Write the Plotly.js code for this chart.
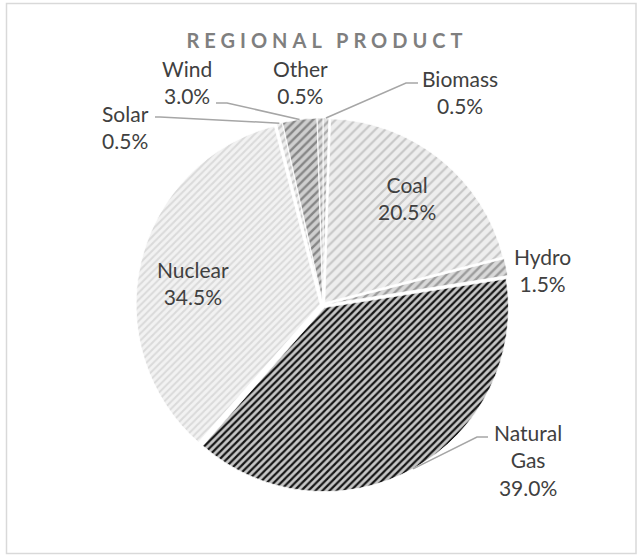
<!DOCTYPE html>
<html>
<head>
<meta charset="utf-8">
<script src="https://cdn.plot.ly/plotly-3.0.1.min.js"></script>
<style>html,body{margin:0;padding:0;background:#fff;}</style>
</head>
<body>
<div id="chart" style="width:638px;height:556px;"></div>
<script>
// ---- data ----
const labels = ['Biomass', 'Coal', 'Hydro', 'Natural Gas', 'Nuclear', 'Solar', 'Wind', 'Other'];
const values = [0.5, 20.5, 1.5, 39.0, 34.5, 0.5, 3.0, 0.5];
const chartTitle = 'REGIONAL PRODUCT';

// ---- styles ----
const W = 638, H = 556;
const pull = 0.016;
const pieBox = {cx: 323, cy: 305, size: 374};
const patBg = ['#e4e4e4', '#eeeeee', '#d9d9d9', '#c6c6c6', '#f2f2f2', '#efefef', '#cfcfcf', '#dcdcdc'];
const patFg = ['#ababab', '#c6c6c6', '#9c9c9c', '#161616', '#dadada', '#c8c8c8', '#868686', '#a3a3a3'];
const patSize = [6, 7, 6, 5, 5, 6, 6, 6];
const patSolid = [0.4, 0.3, 0.4, 0.45, 0.4, 0.4, 0.4, 0.4];
// label block centres (px) and leader line elbows/ends (px) — layout only
const labelPos = {
  'Biomass': [460, 92], 'Coal': [407, 198], 'Hydro': [542, 270], 'Natural Gas': [528, 460],
  'Nuclear': [193, 283], 'Solar': [125, 127], 'Wind': [187, 82], 'Other': [300, 82]
};
const leaders = {
  'Biomass': [[406, 83], [418, 83]],
  'Wind': [[227, 103], [216, 103]],
  'Solar': [[160, 117], [155, 117]],
  'Natural Gas': [[477, 437], [488, 437]]
};
const textColor = '#404040';
const fontFam = 'Lato, "Open Sans", sans-serif';

const px2x = px => px / W;
const py2y = py => 1 - py / H;

const domain = {
  x: [px2x(pieBox.cx - pieBox.size / 2), px2x(pieBox.cx + pieBox.size / 2)],
  y: [py2y(pieBox.cy + pieBox.size / 2), py2y(pieBox.cy - pieBox.size / 2)]
};

const total = values.reduce((a, b) => a + b, 0);
const r = pieBox.size / (2 + 2 * pull);

// annotations (labels) from data
const annotations = labels.map((lab, i) => {
  const pct = (values[i] / total * 100).toFixed(1) + '%';
  const p = labelPos[lab];
  return {
    xref: 'paper', yref: 'paper', x: px2x(p[0]), y: py2y(p[1]),
    xanchor: 'center', yanchor: 'middle', align: 'center', showarrow: false,
    text: lab.replace(' ', '<br>') + '<br>' + pct,
    font: {family: fontFam, size: 21, color: textColor}
  };
});

// leader lines: start on slice rim at mid-angle computed from data
const shapes = [];
let cum = 0;
labels.forEach((lab, i) => {
  const mid = (cum + values[i] / 2) / total * 2 * Math.PI;
  cum += values[i];
  if (!leaders[lab]) return;
  const rr = r * (1 + pull);
  const sx = pieBox.cx + rr * Math.sin(mid);
  const sy = pieBox.cy - rr * Math.cos(mid);
  const [e, f] = leaders[lab];
  shapes.push({
    type: 'path', xref: 'paper', yref: 'paper',
    path: `M ${px2x(sx)} ${py2y(sy)} L ${px2x(e[0])} ${py2y(e[1])} L ${px2x(f[0])} ${py2y(f[1])}`,
    line: {color: '#a6a6a6', width: 1.5}
  });
});
// chart border
shapes.push({
  type: 'rect', xref: 'paper', yref: 'paper',
  x0: px2x(6.5), x1: px2x(636), y0: py2y(553.5), y1: py2y(3.5),
  line: {color: '#d9d9d9', width: 1.5}, fillcolor: 'rgba(0,0,0,0)'
});

const trace = {
  type: 'pie',
  labels: labels,
  values: values,
  sort: false,
  direction: 'clockwise',
  rotation: 0,
  textinfo: 'none',
  hoverinfo: 'label+percent',
  pull: labels.map(() => pull),
  domain: domain,
  marker: {
    colors: patBg,
    line: {color: '#ffffff', width: 0.8},
    pattern: {
      shape: labels.map(() => '/'),
      bgcolor: patBg,
      fgcolor: patFg,
      size: patSize,
      solidity: patSolid,
      fillmode: 'replace'
    }
  },
  showlegend: false
};

const layout = {
  width: W, height: H,
  margin: {l: 0, r: 0, t: 0, b: 0},
  paper_bgcolor: '#ffffff',
  title: {
    text: chartTitle,
    x: px2x(327), xanchor: 'center', xref: 'paper',
    y: py2y(41), yanchor: 'middle', yref: 'paper',
    font: {family: fontFam, size: 20, color: '#7f7f7f', weight: 'bold'}
  },
  annotations: annotations,
  shapes: shapes,
  showlegend: false
};

Plotly.newPlot('chart', [trace], layout, {displayModeBar: false, staticPlot: true}).then(() => {
  document.querySelectorAll('.gtitle').forEach(t => { t.style.letterSpacing = '5px'; });
});
</script>
</body>
</html>
